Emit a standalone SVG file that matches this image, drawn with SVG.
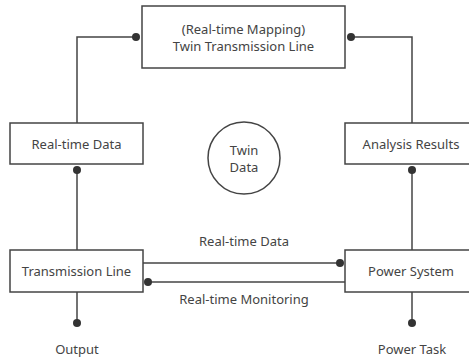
<svg xmlns="http://www.w3.org/2000/svg" width="469" height="361" viewBox="0 0 469 361">
<style>
.box{fill:#fff;stroke:#444;stroke-width:1.5}
.ln{fill:none;stroke:#444;stroke-width:1.5}
.dot{fill:#333}
text{font-family:"Noto Sans","Open Sans",sans-serif;font-size:13px;fill:#444;text-anchor:middle;dominant-baseline:central}
</style>
<rect width="469" height="361" fill="#fff"/>
<g id="connectors">
<path class="ln" d="M136 37H77V123"/>
<circle class="dot" cx="136" cy="37" r="4"/>
<path class="ln" d="M351 37H412V123"/>
<circle class="dot" cx="351" cy="37" r="4"/>
<path class="ln" d="M77 170V250"/>
<circle class="dot" cx="77" cy="170" r="4"/>
<path class="ln" d="M412 170V250"/>
<circle class="dot" cx="412" cy="170" r="4"/>
<path class="ln" d="M143 263H340"/>
<circle class="dot" cx="340" cy="263" r="4"/>
<path class="ln" d="M345 282H148"/>
<circle class="dot" cx="148" cy="282" r="4"/>
<path class="ln" d="M77 292V323"/>
<circle class="dot" cx="77" cy="323" r="4"/>
<path class="ln" d="M412 292V323"/>
<circle class="dot" cx="412" cy="323" r="4"/>
<text x="244" y="241">Real-time Data</text>
<text x="244" y="299">Real-time Monitoring</text>
</g>
<g id="twin">
<rect class="box" x="142" y="6" width="203" height="62"/>
<text x="243.5" y="29">(Real-time Mapping)</text>
<text x="243.5" y="46">Twin Transmission Line</text>
</g>
<g id="rtdata">
<rect class="box" x="10" y="123" width="133" height="41"/>
<text x="76.5" y="144">Real-time Data</text>
</g>
<g id="analysis">
<rect class="box" x="345" y="123" width="133" height="41"/>
<text x="411" y="144">Analysis Results</text>
</g>
<g id="twindata">
<circle class="box" cx="244" cy="158" r="36"/>
<text x="244" y="150">Twin</text>
<text x="244" y="167">Data</text>
</g>
<g id="tline">
<rect class="box" x="10" y="250" width="133" height="42"/>
<text x="76.5" y="271">Transmission Line</text>
</g>
<g id="psys">
<rect class="box" x="345" y="250" width="133" height="42"/>
<text x="411" y="271">Power System</text>
</g>
<g id="output"><text x="77" y="349">Output</text></g>
<g id="ptask"><text x="412" y="349">Power Task</text></g>
</svg>
